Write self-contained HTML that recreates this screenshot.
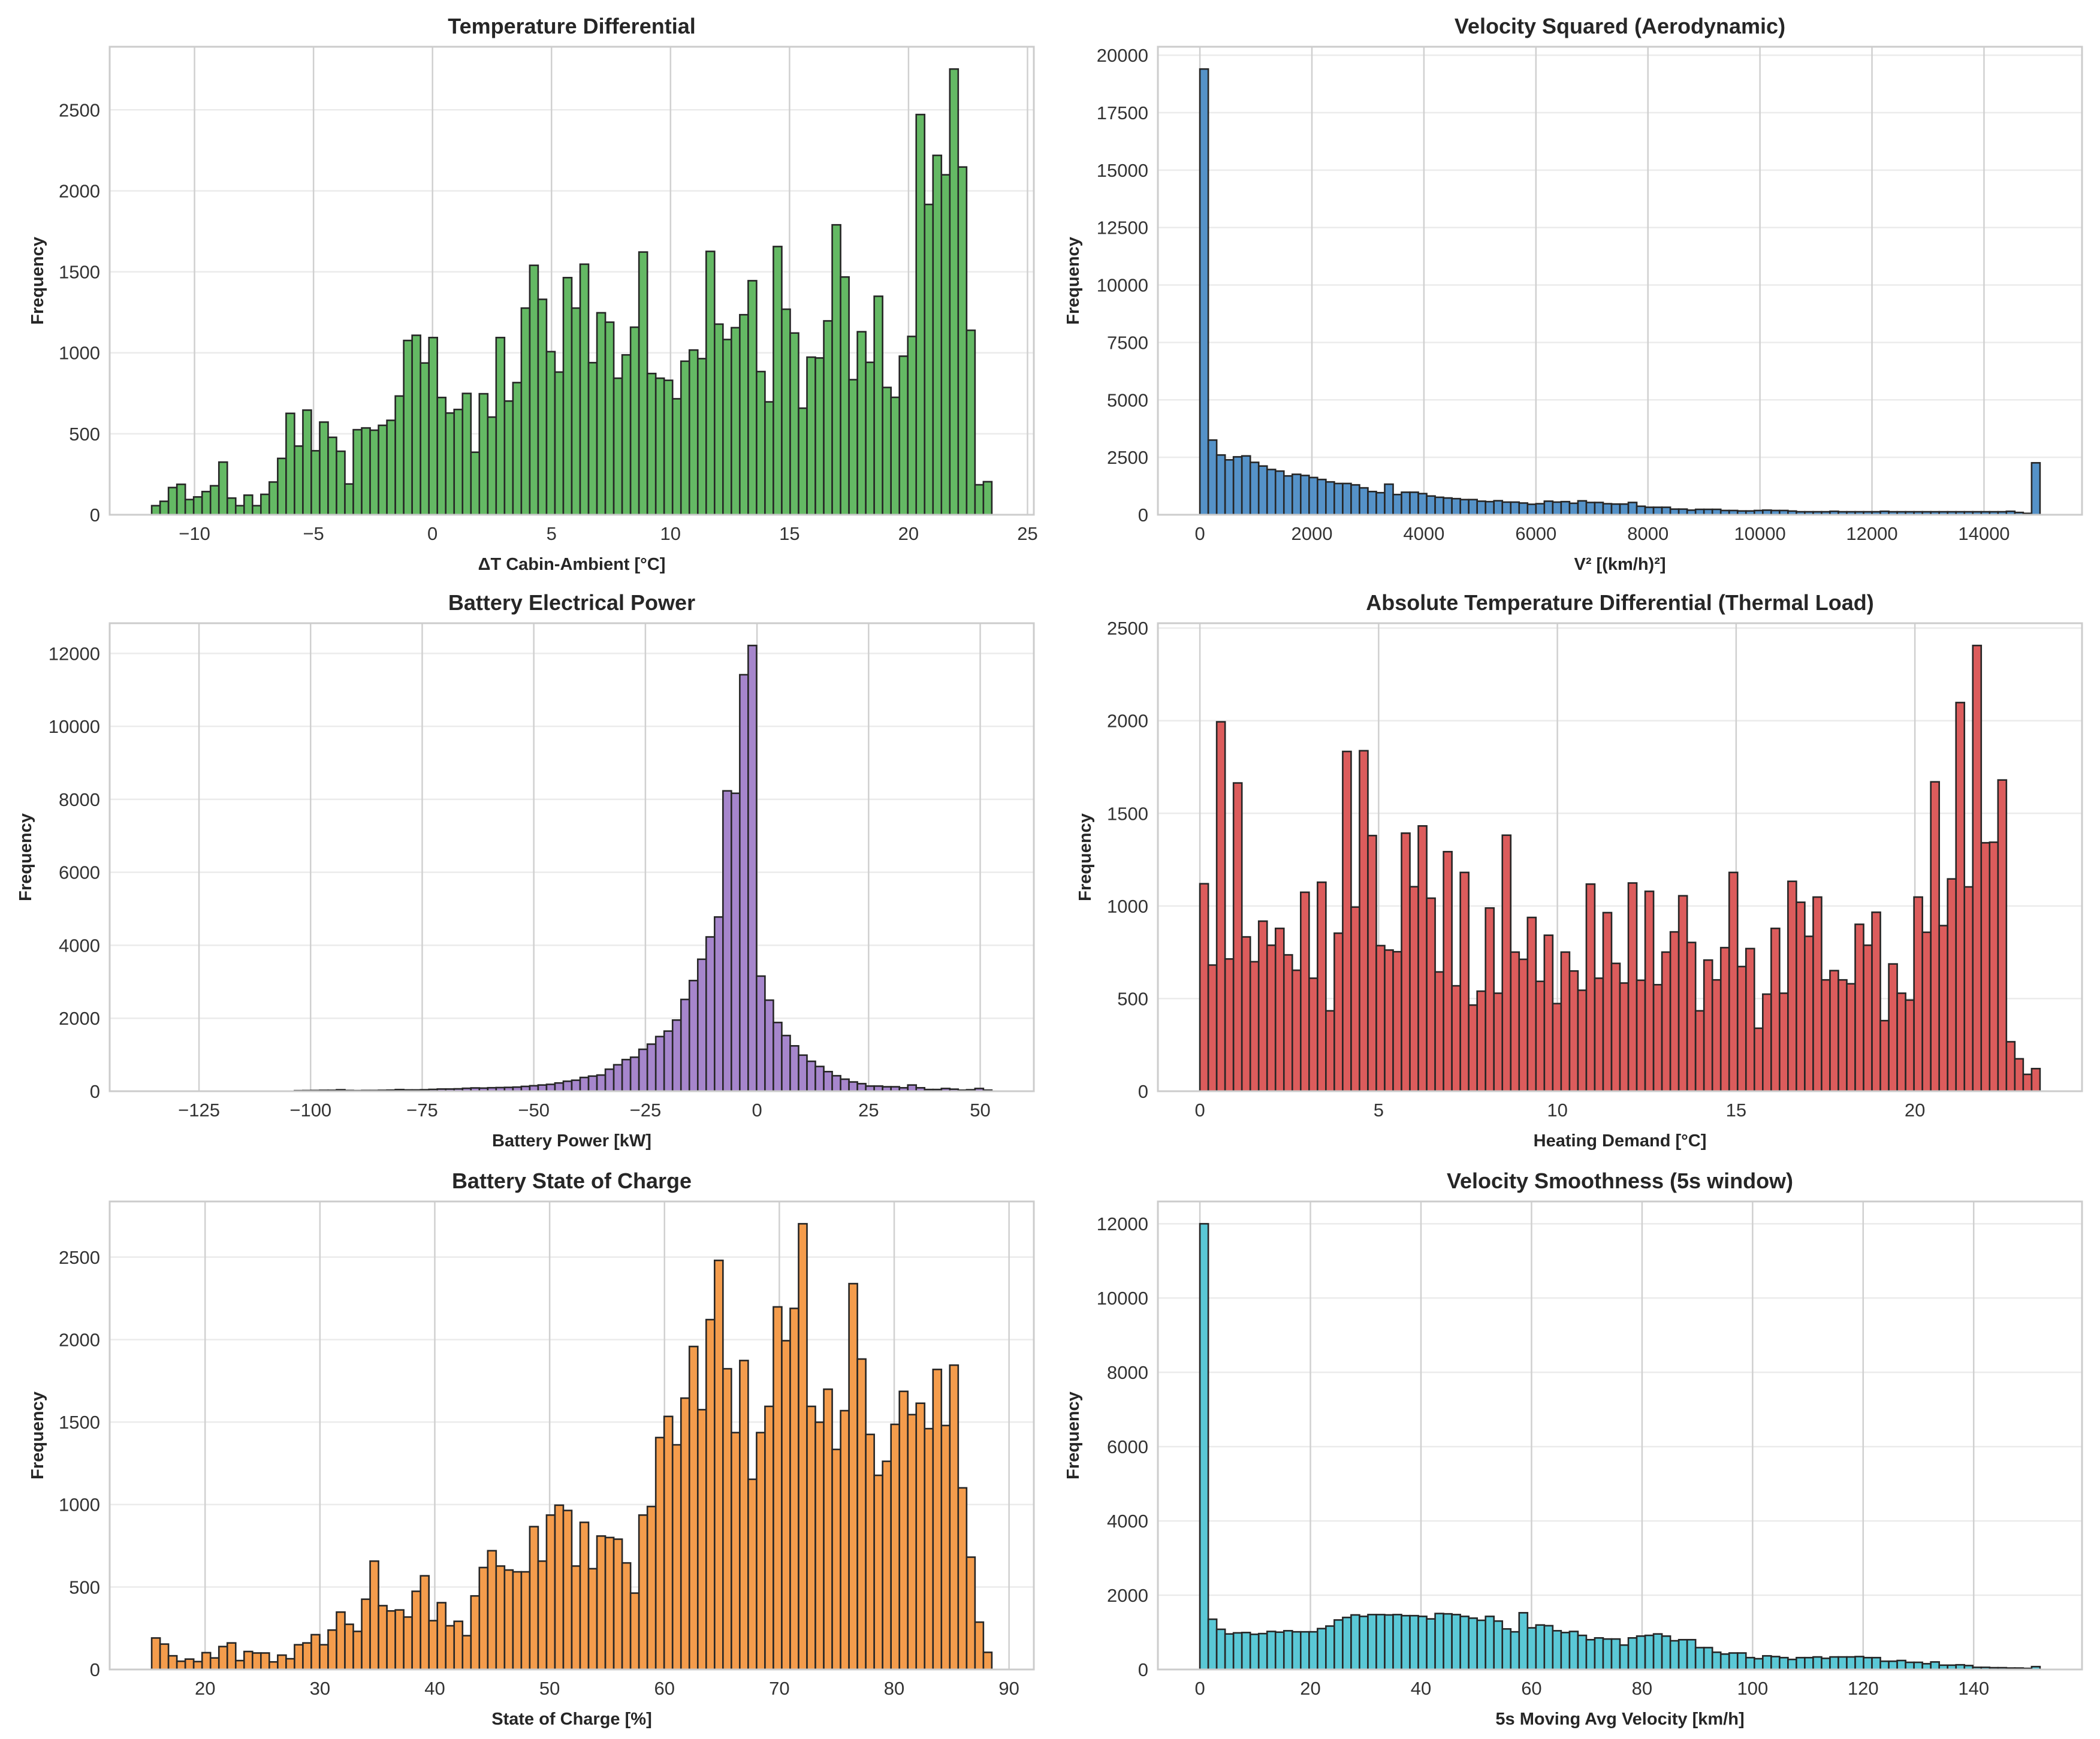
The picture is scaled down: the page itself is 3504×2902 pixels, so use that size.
<!DOCTYPE html>
<html><head><meta charset="utf-8">
<style>
html,body{margin:0;padding:0;background:#fff;}
svg{display:block;font-family:"Liberation Sans",Arial,sans-serif;}
</style></head>
<body>
<svg id="fig" width="3504" height="2902" viewBox="0 0 3504 2902" xmlns="http://www.w3.org/2000/svg">
<rect x="0" y="0" width="3504" height="2902" fill="#fff"/>
</svg>
<script>
// ---- data ----
const tempDiffCounts = [56,83,168,188,94,110,143,179,325,103,56,121,56,126,202,348,626,424,646,395,572,478,392,190,525,536,522,552,583,733,1076,1108,937,1094,724,628,650,749,386,747,603,1094,702,816,1276,1540,1330,1007,881,1464,1276,1547,939,1247,1189,843,987,1158,1622,872,843,830,716,948,1017,964,1626,1177,1082,1155,1235,1445,884,697,1656,1269,1122,658,973,968,1197,1790,1468,834,1130,941,1349,786,725,979,1101,2471,1916,2219,2099,2752,2147,1139,185,204];
const tempDiffBins = [-11.8, 0.353];
const vsqCounts = [19400,3250,2600,2390,2520,2560,2280,2120,1970,1900,1690,1760,1710,1620,1535,1430,1360,1360,1300,1170,1010,960,1330,880,980,980,920,815,760,730,700,660,660,590,570,610,550,550,510,455,480,590,550,570,500,605,535,535,480,465,465,535,370,325,325,325,245,245,200,235,235,235,185,185,165,165,185,200,185,185,160,130,130,130,130,150,130,130,130,130,130,150,130,130,130,130,130,130,130,130,130,130,130,130,130,130,150,100,60,2260];
const vsqBins = [0, 150];
const powerCounts = [0,0,0,0,2,0,0,0,0,0,0,2,0,0,0,0,3,15,18,20,25,25,40,20,15,20,20,25,30,45,35,35,40,50,60,60,65,80,90,85,95,100,105,113,132,150,170,188,226,273,301,377,414,443,603,725,867,932,1149,1290,1498,1648,1950,2515,3033,3617,4229,4775,8232,8166,11415,12216,3155,2496,1884,1526,1243,989,820,678,537,424,330,254,207,141,141,122,122,94,170,94,47,47,75,56,28,40,75,30];
const powerBins = [-135.6, 1.882];
const absTempCounts = [1120,681,1994,714,1664,833,699,918,788,879,736,653,1074,610,1128,434,853,1834,994,1838,1380,786,762,753,1393,1104,1432,1042,644,1293,569,1181,465,540,989,529,1382,751,712,938,593,842,473,751,649,545,1118,610,964,690,584,1124,599,1079,575,751,860,1055,803,434,708,601,775,1181,673,770,340,524,879,529,1133,1020,836,1048,601,651,601,580,901,788,966,381,687,529,492,1048,858,1670,894,1146,2098,1103,2406,1341,1344,1680,267,175,91,122];
const absTempBins = [0, 0.235];
const socCounts = [191,154,83,50,63,48,102,70,139,161,54,109,100,100,46,87,65,150,161,211,150,239,348,274,231,426,657,387,355,361,318,474,568,296,405,265,292,205,446,618,720,627,603,592,592,866,657,936,996,964,627,892,611,809,800,790,646,463,936,988,1406,1534,1362,1645,1958,1575,2121,2480,1823,1436,1873,1153,1436,1595,2198,1993,2189,2702,1595,1499,1699,1334,1569,2339,1882,1425,1177,1262,1486,1686,1545,1614,1460,1819,1479,1845,1101,681,287,104];
const socBins = [15.35, 0.7315];
const smoothCounts = [12000,1353,1082,957,986,995,947,966,1024,1005,1043,1014,1014,1014,1101,1169,1333,1401,1469,1430,1478,1478,1469,1478,1449,1449,1430,1362,1507,1498,1478,1430,1382,1324,1430,1304,1092,1014,1527,1121,1198,1179,1043,995,1024,918,802,850,821,821,657,850,899,918,957,899,773,802,802,589,589,464,415,444,444,319,290,367,348,319,271,319,319,338,300,338,338,338,348,319,319,222,222,242,193,193,155,203,116,116,126,106,58,58,48,48,39,39,29,77];
const smoothBins = [0, 1.52];

const tempDiffXTicks = [-10,-5,0,5,10,15,20,25];
const tempDiffYTicks = [0,500,1000,1500,2000,2500];
const vsqXTicks = [0,2000,4000,6000,8000,10000,12000,14000];
const vsqYTicks = [0,2500,5000,7500,10000,12500,15000,17500,20000];
const powerXTicks = [-125,-100,-75,-50,-25,0,25,50];
const powerYTicks = [0,2000,4000,6000,8000,10000,12000];
const absTempXTicks = [0,5,10,15,20];
const absTempYTicks = [0,500,1000,1500,2000,2500];
const socXTicks = [20,30,40,50,60,70,80,90];
const socYTicks = [0,500,1000,1500,2000,2500];
const smoothXTicks = [0,20,40,60,80,100,120,140];
const smoothYTicks = [0,2000,4000,6000,8000,10000,12000];

const NS = "http://www.w3.org/2000/svg";
const fig = document.getElementById('fig');
function mk(tag, attrs, parent){
  const e = document.createElementNS(NS, tag);
  for (const k in attrs) e.setAttribute(k, attrs[k]);
  (parent||fig).appendChild(e);
  return e;
}
function fmt(v){ return v<0 ? '\u2212'+(-v) : String(v); }

function panel(o){
  const g = mk('g', {});
  
  
  const L=o.left, T=o.top, W=1542, H=781, B=T+H;
  const n=o.counts.length, start=o.bins[0], bw=o.bins[1];
  const end=start+n*bw, span=end-start;
  const xmin=start-0.05*span, xmax=end+0.05*span;
  let maxc=0; o.counts.forEach(c=>{ if(c>maxc) maxc=c; });
  const ymax=maxc*1.05;
  const X=v=>L+(v-xmin)/(xmax-xmin)*W;
  const Y=v=>B-v/ymax*H;
  o.yticks.forEach(t=>{
    const y=Y(t);
    const ln=mk('line',{x1:L,x2:L+W,y1:y,y2:y,stroke:'#ebebeb','stroke-width':2.5},g);
    
    
    const tx=mk('text',{x:L-16,y:y+11,'text-anchor':'end','font-size':31,fill:'#333'},g);
    tx.textContent=fmt(t);
    
    
  });
  o.xticks.forEach(t=>{
    const x=X(t);
    const ln=mk('line',{x1:x,x2:x,y1:T,y2:B,stroke:'#d0d0d0','stroke-width':2.5},g);
    
    
    const tx=mk('text',{x:x,y:B+42,'text-anchor':'middle','font-size':31,fill:'#333'},g);
    tx.textContent=fmt(t);
    
    
  });
  o.counts.forEach((c,i)=>{
    if(c<=0) return;
    const x0=X(start+i*bw), x1=X(start+(i+1)*bw), y=Y(c);
    const r=mk('rect',{x:x0,y:y,width:x1-x0,height:B-y,fill:o.color,stroke:'#262626','stroke-width':2.6},g);
    
    
  });
  const fr=mk('rect',{x:L,y:T,width:W,height:H,fill:'none',stroke:'#cccccc','stroke-width':3},g);
  
  
  const ti=mk('text',{x:L+W/2,y:T-22,'text-anchor':'middle','font-size':36,'font-weight':'bold',fill:'#262626'},g);
  ti.textContent=o.title;
  
  
  const xl=mk('text',{x:L+W/2,y:B+92,'text-anchor':'middle','font-size':29,'font-weight':'bold',fill:'#262626'},g);
  xl.textContent=o.xlabel;
  
  
  const yx=o.ylabelX, yy=T+H/2;
  const yl=mk('text',{x:yx,y:yy,'text-anchor':'middle','font-size':29,'font-weight':'bold',fill:'#262626',transform:'rotate(-90 '+yx+' '+yy+')'},g);
  yl.textContent='Frequency';
  
  
}

panel({name:'temperature-differential-panel',left:183,top:78,counts:tempDiffCounts,bins:tempDiffBins,xticks:tempDiffXTicks,yticks:tempDiffYTicks,color:'#64b964',title:'Temperature Differential',xlabel:'\u0394T Cabin-Ambient [\u00b0C]',ylabelX:72});
panel({name:'velocity-squared-panel',left:1932,top:78,counts:vsqCounts,bins:vsqBins,xticks:vsqXTicks,yticks:vsqYTicks,color:'#5592c8',title:'Velocity Squared (Aerodynamic)',xlabel:'V\u00b2 [(km/h)\u00b2]',ylabelX:1800});
panel({name:'battery-power-panel',left:183,top:1040,counts:powerCounts,bins:powerBins,xticks:powerXTicks,yticks:powerYTicks,color:'#a686cc',title:'Battery Electrical Power',xlabel:'Battery Power [kW]',ylabelX:52});
panel({name:'absolute-temperature-panel',left:1932,top:1040,counts:absTempCounts,bins:absTempBins,xticks:absTempXTicks,yticks:absTempYTicks,color:'#dc5c5c',title:'Absolute Temperature Differential (Thermal Load)',xlabel:'Heating Demand [\u00b0C]',ylabelX:1820});
panel({name:'state-of-charge-panel',left:183,top:2005,counts:socCounts,bins:socBins,xticks:socXTicks,yticks:socYTicks,color:'#f49c4c',title:'Battery State of Charge',xlabel:'State of Charge [%]',ylabelX:72});
panel({name:'velocity-smoothness-panel',left:1932,top:2005,counts:smoothCounts,bins:smoothBins,xticks:smoothXTicks,yticks:smoothYTicks,color:'#5ac8d6',title:'Velocity Smoothness (5s window)',xlabel:'5s Moving Avg Velocity [km/h]',ylabelX:1800});
</script>
</body></html>
